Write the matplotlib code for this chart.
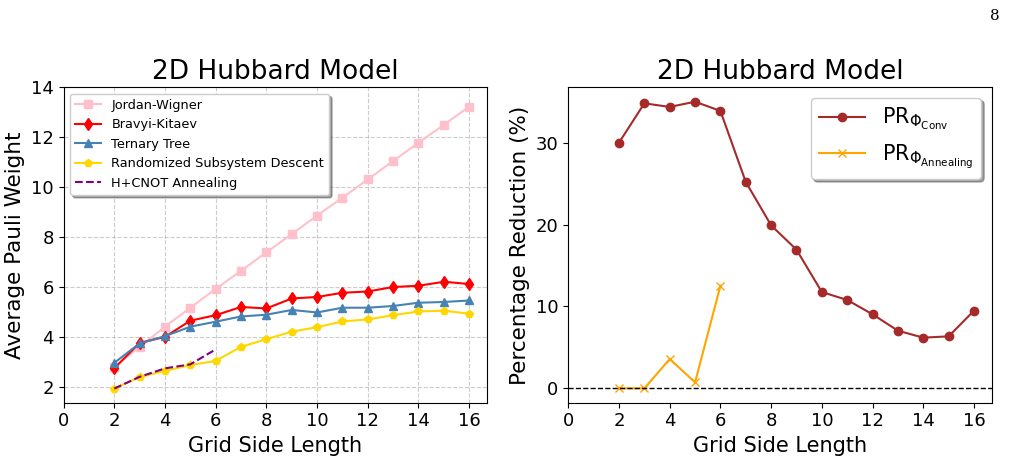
import matplotlib
matplotlib.use('Agg')
import matplotlib.pyplot as plt

n = [2, 3, 4, 5, 6, 7, 8, 9, 10, 11, 12, 13, 14, 15, 16]
jw = [2.8, 3.6, 4.41, 5.17, 5.92, 6.65, 7.39, 8.12, 8.86, 9.58, 10.31, 11.05, 11.78, 12.5, 13.23]
bk = [2.74, 3.76, 4.0, 4.65, 4.87, 5.2, 5.14, 5.54, 5.6, 5.77, 5.82, 6.0, 6.05, 6.21, 6.12]
tt = [2.96, 3.74, 4.03, 4.41, 4.61, 4.82, 4.89, 5.08, 4.98, 5.17, 5.17, 5.24, 5.37, 5.4, 5.46]
rsd = [1.93, 2.39, 2.64, 2.87, 3.04, 3.6, 3.91, 4.21, 4.39, 4.62, 4.7, 4.87, 5.02, 5.05, 4.93]
n_ann = [2, 3, 4, 5, 6]
hcnot = [1.93, 2.4, 2.74, 2.9, 3.5]

pr_conv = [30.0, 34.8, 34.36, 35.0, 33.87, 25.2, 19.9, 16.93, 11.76, 10.79, 9.04, 7.04, 6.19, 6.35, 9.48]
pr_ann = [0.0, 0.0, 3.58, 0.73, 12.53]

fig = plt.figure(figsize=(10.13, 4.61), dpi=100)
ax1 = fig.add_axes([0.0627, 0.1265, 0.418, 0.684])
ax2 = fig.add_axes([0.561, 0.1265, 0.418, 0.684])

ax1.plot(n, jw, marker='s', color='pink', label='Jordan-Wigner')
ax1.plot(n, bk, marker='d', color='red', label='Bravyi-Kitaev')
ax1.plot(n, tt, marker='^', color='steelblue', label='Ternary Tree')
ax1.plot(n, rsd, marker='p', color='gold', label='Randomized Subsystem Descent')
ax1.plot(n_ann, hcnot, '--', color='purple', label='H+CNOT Annealing')
ax1.set_xlim(0, 16.7)
ax1.set_ylim(1.365, 14)
ax1.set_xticks(range(0, 17, 2))
ax1.set_title('2D Hubbard Model', fontsize=19)
ax1.set_xlabel('Grid Side Length', fontsize=15)
ax1.set_ylabel('Average Pauli Weight', fontsize=15.5)
ax1.tick_params(labelsize=13)
ax1.grid(True, linestyle='--', color='gray', alpha=0.4)
ax1.legend(loc='upper left', fontsize=9.3, shadow=True)

ax2.plot(n, pr_conv, marker='o', color='brown', label=r'$\mathrm{PR}_{\Phi_{\mathrm{Conv}}}$')
ax2.plot(n_ann, pr_ann, marker='x', color='orange', label=r'$\mathrm{PR}_{\Phi_{\mathrm{Annealing}}}$')
ax2.axhline(0, color='black', linestyle='--', linewidth=1)
ax2.set_xlim(0, 16.7)
ax2.set_xticks(range(0, 17, 2))
ax2.set_yticks([0, 10, 20, 30])
ax2.set_title('2D Hubbard Model', fontsize=19)
ax2.set_xlabel('Grid Side Length', fontsize=15)
ax2.set_ylabel('Percentage Reduction (%)', fontsize=15.5)
ax2.tick_params(labelsize=13)
ax2.legend(loc='upper right', fontsize=15, shadow=True, handlelength=2.2)

fig.text(0.987, 0.965, '8', family='DejaVu Serif', fontsize=11, ha='right', va='center')

fig.savefig('out.png')
